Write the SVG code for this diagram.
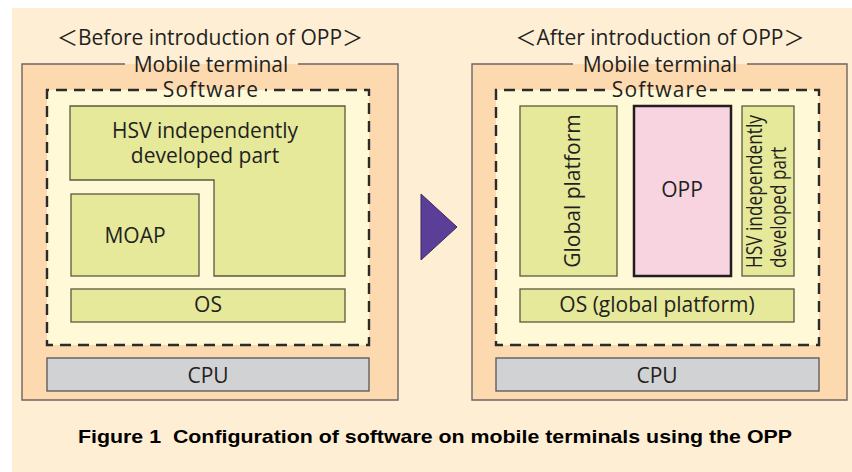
<svg xmlns="http://www.w3.org/2000/svg" width="852" height="472" viewBox="0 0 852 472">
<style>
.lbl{font-family:"Open Sans","Noto Sans","Noto Sans CJK JP",sans-serif;font-size:21px;fill:#231f20}
.mid{text-anchor:middle}
.term{fill:#fdd9b0;stroke:none}
.termline{fill:none;stroke:#6d6463;stroke-width:1.4}
.soft{fill:#fff9d7;stroke:none}
.dash{fill:none;stroke:#2b2b2b;stroke-width:2.4;stroke-dasharray:11 7}
.grn{fill:#e6e99a;stroke:#5a5a40;stroke-width:1.3}
.cpu{fill:#d1d2d4;stroke:#5e5e60;stroke-width:1.4}
.opp{fill:#f8d3e0;stroke:#231f20;stroke-width:2.5}
.cap{font-family:"Liberation Sans",Arial,sans-serif;font-weight:bold;font-size:18.5px;fill:#000;white-space:pre}
</style>
<rect x="12" y="8" width="840" height="464" fill="#feeed4"/>

<g id="before">
  <text class="lbl mid" x="210" y="45">＜Before introduction of OPP＞</text>
  <g id="terminal-before">
    <rect class="term" x="22" y="64" width="376" height="336"/>
    <path class="termline" d="M125,64 H22 V400 H398 V64 H298"/>
    <text class="lbl mid" x="211" y="72">Mobile terminal</text>
  </g>
  <g id="software-before">
    <rect class="soft" x="47" y="90" width="322" height="255"/>
    <path class="dash" d="M157,90 H47 V345 H369 V90 H265"/>
    <text class="lbl mid" x="211" y="97" letter-spacing="1.2">Software</text>
  </g>
  <g id="hsv-before">
    <path class="grn" d="M70,106 H345 V276 H214 V180 H70 Z"/>
    <text class="lbl mid" x="205" y="138">HSV independently</text>
    <text class="lbl mid" x="205" y="163">developed part</text>
  </g>
  <g id="moap">
    <rect class="grn" x="71" y="194" width="128" height="82"/>
    <text class="lbl mid" x="135" y="243">MOAP</text>
  </g>
  <g id="os-before">
    <rect class="grn" x="71" y="289" width="274" height="33"/>
    <text class="lbl mid" x="208" y="312">OS</text>
  </g>
  <g id="cpu-before">
    <rect class="cpu" x="47" y="358" width="322" height="33"/>
    <text class="lbl mid" x="208" y="383">CPU</text>
  </g>
</g>

<g id="connectors">
  <polygon points="421,194 457,227 421,260" fill="#5a3e98" stroke="#3a2a5a" stroke-width="1"/>
</g>

<g id="after">
  <text class="lbl mid" x="660" y="45">＜After introduction of OPP＞</text>
  <g id="terminal-after">
    <rect class="term" x="472" y="64" width="375" height="336"/>
    <path class="termline" d="M573,64 H472 V400 H847 V64 H747"/>
    <text class="lbl mid" x="660" y="72">Mobile terminal</text>
  </g>
  <g id="software-after">
    <rect class="soft" x="496" y="90" width="323" height="255"/>
    <path class="dash" d="M605,90 H496 V345 H819 V90 H710"/>
    <text class="lbl mid" x="660" y="97" letter-spacing="1.2">Software</text>
  </g>
  <g id="global-platform">
    <rect class="grn" x="520" y="106" width="97" height="170"/>
    <text class="lbl mid" transform="translate(580,191) rotate(-90)">Global platform</text>
  </g>
  <g id="opp">
    <rect class="opp" x="634" y="106" width="97" height="170"/>
    <text class="lbl mid" x="682" y="197">OPP</text>
  </g>
  <g id="hsv-after">
    <rect class="grn" x="742" y="106" width="52" height="170"/>
    <text class="lbl" font-size="20" transform="translate(762,268) rotate(-90)" textLength="153" lengthAdjust="spacingAndGlyphs">HSV independently</text>
    <text class="lbl" font-size="20" transform="translate(786,268) rotate(-90)" textLength="121" lengthAdjust="spacingAndGlyphs">developed part</text>
  </g>
  <g id="os-after">
    <rect class="grn" x="520" y="289" width="274" height="33"/>
    <text class="lbl mid" x="657" y="312">OS (global platform)</text>
  </g>
  <g id="cpu-after">
    <rect class="cpu" x="496" y="358" width="323" height="33"/>
    <text class="lbl mid" x="657" y="383">CPU</text>
  </g>
</g>

<text class="cap" x="78" y="443" xml:space="preserve" textLength="714" lengthAdjust="spacingAndGlyphs">Figure 1  Configuration of software on mobile terminals using the OPP</text>
</svg>
